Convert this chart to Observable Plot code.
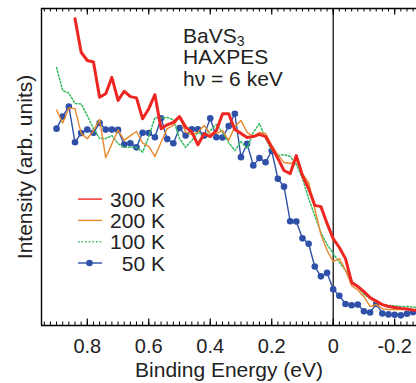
<!DOCTYPE html>
<html><head><meta charset="utf-8">
<script src="https://cdn.jsdelivr.net/npm/d3@7"></script>
<script src="https://cdn.jsdelivr.net/npm/@observablehq/plot@0.6"></script>
<style>body{margin:0;background:#fff} svg{display:block}</style>
</head><body><div id="chart"></div>
<script>
// Binding energy grid (eV)
const energy = [0.90,0.88,0.86,0.84,0.82,0.80,0.78,0.76,0.74,0.72,0.70,0.68,0.66,0.64,0.62,0.60,0.58,0.56,0.54,0.52,0.50,0.48,0.46,0.44,0.42,0.40,0.38,0.36,0.34,0.32,0.30,0.28,0.26,0.24,0.22,0.20,0.18,0.16,0.14,0.12,0.10,0.08,0.06,0.04,0.02,0,-0.02,-0.04,-0.06,-0.08,-0.10,-0.12,-0.14,-0.16,-0.18,-0.20,-0.22,-0.24,-0.26,-0.28];
// Intensities (arb. units)
const i300 = [null,null,null,96.8,86.2,83.6,83.1,72.0,73.1,78.3,71.0,73.9,72.2,71.8,65.2,68.4,72.8,62.1,63.3,64.1,65.9,62.6,61.0,57.0,60.5,59.6,61.5,66.8,66.8,61.8,60.6,59.3,59.6,60.3,59.6,56.2,52.7,48.9,47.9,53.6,47.3,43.2,37.9,37.5,32.2,27.4,24.6,21.1,13.6,12.3,10.7,8.8,7.7,6.6,6.0,5.7,5.4,5.2,4.9,4.7];
const i200 = [68.0,63.9,68.6,68.4,60.6,58.9,61.5,65.0,52.9,57.3,61.7,58.4,59.9,61.2,57.5,56.5,53.3,57.8,62.1,63.1,65.9,61.0,60.2,61.0,63.1,60.5,60.6,61.5,58.4,62.8,64.7,60.9,59.6,60.9,60.6,56.8,53.9,51.4,51.1,52.1,47.9,45.1,36.9,28.7,23.7,20.2,21.1,17.4,12.6,11.2,9.1,6.0,6.6,5.3,5.0,5.0,5.0,5.0,5.0,5.0];
const i100 = [81.4,74.1,73.3,70.0,69.9,66.2,62.1,59.0,59.0,59.9,57.4,56.2,56.2,56.2,54.7,59.6,65.6,65.5,65.6,64.9,59.0,56.2,58.4,60.9,59.9,61.5,63.4,60.9,57.7,55.2,58.0,55.8,60.9,63.7,59.0,55.2,53.6,53.9,53.3,50.8,46.4,40.1,34.7,29.3,25.6,22.7,19.9,17.4,14.2,12.1,9.9,8.5,7.3,6.6,6.3,6.2,6.0,6.0,5.8,5.7];
const i50 = [62.1,65.9,69.1,57.8,60.7,61.8,60.8,63.9,61.8,61.8,61.7,57.1,57.5,56.2,60.8,60.7,59.4,65.4,58.8,57.5,62.3,59.9,61.9,61.9,59.9,65.4,59.4,59.3,62.9,66.8,53.1,57.3,50.5,52.8,51.5,55.1,46.3,43.8,32.9,32.8,27.5,25.8,18.6,15.5,16.6,11.4,9.4,6.8,6.4,6.6,4.5,4.1,6.8,3.8,3.5,3.4,3.2,3.7,4.2,null];

const seriesNames = ["300 K","200 K","100 K","50 K"];
const majorTicks = [0.8,0.6,0.4,0.2,0,-0.2];
const minorTicks = d3.range(-13, 48).map(i => i / 50);
const xDomain = [0.949, -0.271];
const yDomain = [0, 100];
const xLabel = "Binding Energy (eV)";
const yLabel = "Intensity (arb. units)";
const noteLines = ["BaVS", "HAXPES", "h\u03bd = 6 keV"];

const colors = {"300 K":"#ee2622","200 K":"#e8892c","100 K":"#33b960","50 K":"#2f50a8"};
const rowsOf = (vals) => energy.map((e, i) => ({e, v: vals[i]}));
const r300 = rowsOf(i300), r200 = rowsOf(i200), r100 = rowsOf(i100), r50 = rowsOf(i50);

const W = 416, H = 383, mT = 8, mB = 58, mL = 41, mR = 0;
const pH = H - mT - mB;
const font = "'Liberation Sans', Arial, Helvetica, sans-serif";

const plot = Plot.plot({
  width: W, height: H,
  marginTop: mT, marginBottom: mB, marginLeft: mL, marginRight: mR,
  style: {fontFamily: font, fontSize: "20px", background: "#fff"},
  x: {domain: xDomain},
  y: {domain: yDomain, axis: null},
  marks: [
    Plot.ruleX([0], {stroke: "#000", strokeWidth: 1.2}),
    Plot.line(r50, {x: "e", y: "v", stroke: colors["50 K"], strokeWidth: 1.4, clip: true}),
    Plot.dot(r50, {x: "e", y: "v", r: 3.3, fill: colors["50 K"], clip: true}),
    Plot.line(r100, {x: "e", y: "v", stroke: colors["100 K"], strokeWidth: 1.5, strokeDasharray: "1.6,2", clip: true}),
    Plot.line(r200, {x: "e", y: "v", stroke: colors["200 K"], strokeWidth: 1.4, clip: true}),
    Plot.line(r300, {x: "e", y: "v", stroke: colors["300 K"], strokeWidth: 3, clip: true}),
    // inward ticks, bottom and top
    Plot.tickX(minorTicks, {x: d => d, stroke: "#000", strokeWidth: 1, insetTop: pH - 3.5}),
    Plot.tickX(minorTicks, {x: d => d, stroke: "#000", strokeWidth: 1, insetBottom: pH - 3.5}),
    Plot.tickX(majorTicks, {x: d => d, stroke: "#000", strokeWidth: 1.2, insetTop: pH - 6.5}),
    Plot.tickX(majorTicks, {x: d => d, stroke: "#000", strokeWidth: 1.2, insetBottom: pH - 6.5}),
    // frame: left, top, bottom
    Plot.ruleX([xDomain[0]], {stroke: "#000", strokeWidth: 1.4}),
    Plot.ruleY([yDomain[0]], {stroke: "#000", strokeWidth: 1.4}),
    Plot.ruleY([yDomain[1]], {stroke: "#000", strokeWidth: 1.4}),
    Plot.axisX({ticks: majorTicks, tickSize: 0, tickPadding: 13, tickFormat: d => d === 0 ? "0" : String(d), label: null, fontSize: 20, fill: "#222"}),
    Plot.text([xLabel], {text: d => d, frameAnchor: "bottom", textAnchor: "middle", lineAnchor: "middle", dy: 45, fontSize: 21, fill: "#222"}),
    Plot.text([yLabel], {text: d => d, frameAnchor: "left", textAnchor: "middle", lineAnchor: "middle", rotate: -90, dx: -16, fontSize: 21, fill: "#222"})
  ]
});

const svg = d3.select(plot);
// annotation
const note = svg.append("g").attr("font-family", font).attr("font-size", 21).attr("fill", "#222").attr("text-anchor", "start");
const t0 = note.append("text").attr("x", 183).attr("y", 42.7);
t0.append("tspan").text(noteLines[0]);
t0.append("tspan").attr("font-size", 14).attr("dy", 3).text("3");
note.append("text").attr("x", 183).attr("y", 64.2).text(noteLines[1]);
note.append("text").attr("x", 183).attr("y", 85.7).text(noteLines[2]);

// legend
const leg = svg.append("g").attr("font-family", font).attr("font-size", 21).attr("fill", "#222");
seriesNames.forEach((name, i) => {
  const yb = 206.7 + 21.3 * i;
  const yl = yb - 7.6;
  const ln = leg.append("line").attr("x1", 78).attr("x2", 102).attr("y1", yl).attr("y2", yl)
    .attr("stroke", colors[name]).attr("stroke-width", 1.4);
  if (name === "100 K") ln.attr("stroke-dasharray", "1.6,2");
  if (name === "50 K") leg.append("circle").attr("cx", 89.5).attr("cy", yl).attr("r", 3.3).attr("fill", colors[name]);
  leg.append("text").attr("x", 165).attr("y", yb).attr("text-anchor", "end").text(name);
});

document.getElementById("chart").appendChild(plot);
</script>
</body></html>
